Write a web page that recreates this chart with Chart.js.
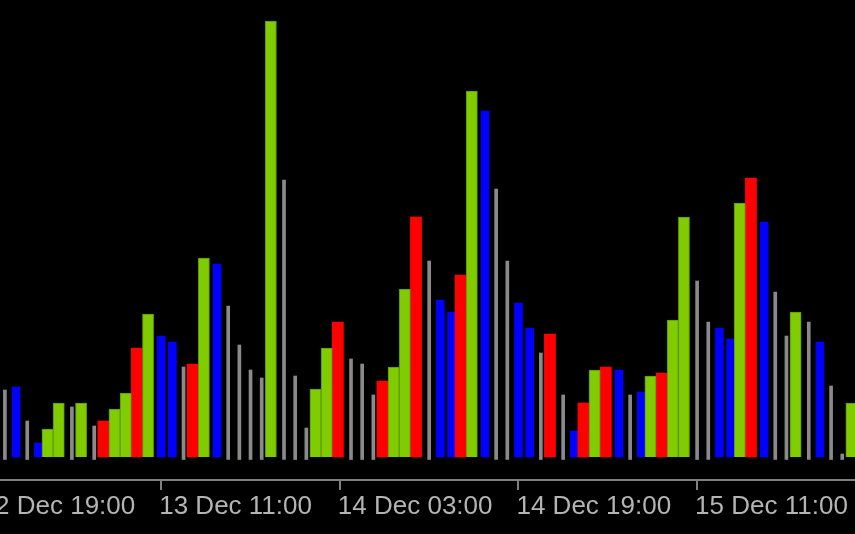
<!DOCTYPE html>
<html>
<head>
<meta charset="utf-8">
<script src="https://cdn.jsdelivr.net/npm/chart.js@4.4.1/dist/chart.umd.min.js"></script>
<style>
	html, body { margin: 0; padding: 0; background: #000; overflow: hidden; width: 855px; height: 534px; }
	#vol_chart { position: absolute; left: -23px; top: 0; }
</style>
</head>
<body>
<canvas id="vol_chart" width="882" height="534"></canvas>
<script>
// hourly volume, first two hours are off screen on the left
var volumes = [null, null,
	670, 700, 360, 140, 280, 540, 500, 540, 310, 360,
	480, 640, 1090, 1430, 1210, 1150, 900, 930, 1990, 1930,
	1510, 1120, 870, 790, 4360, 2770, 810, 290, 680, 1090,
	1350, 980, 930, 620, 760, 900, 1680, 2400, 1960, 1570,
	1450, 1820, 3660, 3460, 2680, 1960, 1540, 1290, 1040, 1230,
	620, 260, 540, 870, 900, 870, 620, 650, 810, 840,
	1370, 2400, 1760, 1350, 1290, 1180, 2540, 2790, 2350, 1650,
	1210, 1450, 1350, 1150, 710, 30, 540];

// G = green, R = red, B = blue, N = plain (grey line)
var barKind = ['-', '-',
	'N','B','N','B','G','G','N','G','N','R',
	'G','G','R','G','B','B','N','R','G','B',
	'N','N','N','N','G','N','N','N','G','G',
	'R','N','N','N','R','G','G','R','N','B',
	'B','R','G','B','N','N','B','B','N','R',
	'N','B','R','G','R','B','N','B','G','R',
	'G','G','N','N','B','B','G','R','B','N',
	'N','G','N','B','N','N','G'];

var startDay = 12, startHour = 19;
var labelEvery = 16;

var categories = [];
for (var i = 0; i < volumes.length; i++) {
	var h = startHour + i;
	var hh = h % 24;
	categories.push((startDay + Math.floor(h / 24)) + ' Dec ' + (hh < 10 ? '0' + hh : hh) + ':00');
}

function pick(kind){
	return volumes.map(function(v, i){ return barKind[i] === kind ? v : null; });
}

var AXIS_GREY = '#808080';

// the terminal draws its wide bars a little left of the bar time
var nudgeWide = {
	id: 'nudgeWide',
	beforeDatasetDraw: function(chart, args){
		if (args.meta._dataset.wide) {
			chart.ctx.save();
			chart.ctx.translate(-2, 0);
		}
	},
	afterDatasetDraw: function(chart, args){
		if (args.meta._dataset.wide) chart.ctx.restore();
	}
};

new Chart(document.getElementById('vol_chart'), {
	type: 'bar',
	data: {
		labels: categories,
		datasets: [
			{ data: pick('G'), wide: true, backgroundColor: '#80cc00', borderColor: '#5e9a00', borderWidth: 1, barPercentage: 1, categoryPercentage: 1, grouped: false },
			{ data: pick('R'), wide: true, backgroundColor: '#ff0000', borderWidth: 0, barPercentage: 1, categoryPercentage: 1, grouped: false },
			{ data: pick('B'), backgroundColor: '#0000ff', borderWidth: 0, barThickness: 8, grouped: false },
			{ data: pick('N'), backgroundColor: '#8a8a8a', borderWidth: 0, barThickness: 3, base: -25, grouped: false }
		]
	},
	plugins: [nudgeWide],
	options: {
		responsive: false,
		animation: false,
		layout: { padding: 0 },
		plugins: { legend: { display: false }, tooltip: { enabled: false } },
		scales: {
			x: {
				offset: true,
				grid: {
					offset: false,
					drawOnChartArea: false,
					drawTicks: true,
					tickLength: 10,
					lineWidth: 2,
					color: function(ctx){ return ctx.index % labelEvery === 0 ? AXIS_GREY : 'rgba(0,0,0,0)'; }
				},
				border: { display: true, color: AXIS_GREY, width: 2 },
				ticks: {
					autoSkip: false,
					maxRotation: 0,
					align: 'start',
					labelOffset: -2,
					padding: 1,
					color: '#b4b4b4',
					font: { family: 'Liberation Sans', size: 26 },
					callback: function(v, i){ return i % labelEvery === 0 ? categories[i] : ''; }
				},
				afterFit: function(scale){ scale.height = 54; }
			},
			y: {
				display: false,
				min: -230,
				max: 4570
			}
		}
	}
});
</script>
</body>
</html>
